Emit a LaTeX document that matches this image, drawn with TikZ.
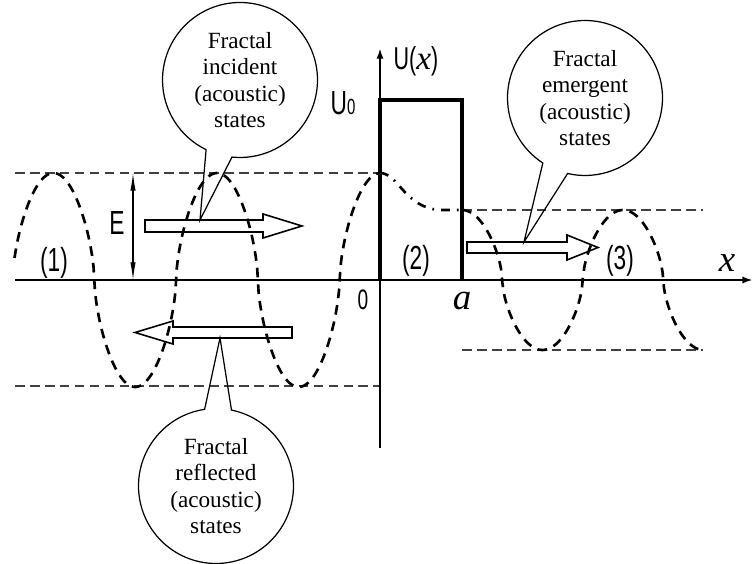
\documentclass[tikz,border=0pt]{standalone}
\usepackage{fontspec}
\setmainfont{Liberation Serif}
\newfontfamily\lblfont[FakeStretch=0.68]{Liberation Sans}
\usetikzlibrary{arrows.meta,shapes.callouts}

\begin{document}
\begin{tikzpicture}[x=0.02cm,y=-0.02cm,
bubble/.style={ellipse callout,draw,line width=.7pt,minimum width=3.1cm,minimum height=3.1cm,inner sep=0pt,align=center,callout pointer arc=20,font=\fontsize{13.2}{14.9}\selectfont},
lbl/.style={anchor=base,inner sep=0pt,font=\lblfont\fontsize{19}{19}\selectfont},
var/.style={anchor=base,inner sep=0pt,font=\fontsize{21}{21}\selectfont\itshape},
axis/.style={line width=1.2pt,-{Latex[length=6pt,width=4pt]}},
wave/.style={line width=1.5pt,dash pattern=on 5.5pt off 4pt},
level/.style={line width=.8pt,dash pattern=on 5.5pt off 3pt,draw=black!75},
hollow/.style={draw,line width=.9pt,line join=miter},
declare function={wv(\t)=sin(\t)*pow(abs(sin(\t))+0.001,-0.4);}]
\useasboundingbox (0,0) rectangle (755,564);

% energy levels
\draw[level] (15,173) -- (380,173);
\draw[level] (15,386) -- (380,386);
\draw[level] (462,210) -- (703,210);
\draw[level] (462,350) -- (703,350);

% axes and barrier
\draw[axis] (15,280) -- (753,280);
\draw[axis] (380,448) -- (380,48);
\draw[line width=1.9pt] (380,280) -- (380,100) -- (462,100) -- (462,280);
\draw[{Latex[length=10pt,width=3pt]}-{Latex[length=10pt,width=3pt]},line width=.6pt] (133,173) -- (133,280);

% states
\draw[wave] plot[domain=14.5:380,samples=260] (\x,{280-107*wv((\x-12.6)*2.2018)});
\draw[wave,dash pattern=on 5pt off 4pt on 1pt off 4pt] (380,173) .. controls (398,173) and (405,208) .. (440,210) -- (462,210);
\draw[wave] plot[domain=462:703,samples=180] (\x,{280-70*wv(90+(\x-462)*2.236)});

% hollow arrows
\draw[hollow] (145,220) -- (263,220) -- (263,214) -- (302,226) -- (263,238) -- (263,232) -- (145,232) -- cycle;
\draw[hollow] (292,327) -- (173,327) -- (173,321) -- (135,332.5) -- (173,344) -- (173,338) -- (292,338) -- cycle;
\draw[hollow] (467,242) -- (567,242) -- (567,235) -- (598,247.5) -- (567,260) -- (567,253) -- (467,253) -- cycle;
\coordinate (incp) at (200,220);
\coordinate (reflp) at (220,338);
\coordinate (emerp) at (524,242);

% callouts
\node[bubble,callout absolute pointer={(incp)}] (inc) at (240,80) {Fractal\\incident\\(acoustic)\\states};
\node[bubble,callout absolute pointer={(reflp)}] (refl) at (216,486) {Fractal\\reflected\\(acoustic)\\states};
\node[bubble,callout absolute pointer={(emerp)}] (emer) at (585,98) {Fractal\\emergent\\(acoustic)\\states};

% labels
\node[lbl] (r1) at (54,272) {(1)};
\node[lbl] (r2) at (416,270) {(2)};
\node[lbl] (r3) at (620,270) {(3)};
\node[lbl] (elbl) at (117,235) {E};
\node[lbl,font=\lblfont\fontsize{16}{16}\selectfont] (orig) at (363,310) {0};
\node[lbl] (uzero) at (343,115) {U{\fontsize{12.5}{12.5}\selectfont 0}};
\node[lbl,font=\lblfont\fontsize{18}{18}\selectfont] (ux) at (416,70) {U({\rmfamily\itshape\fontsize{19}{19}\selectfont x})};
\node[var] (alab) at (462,310) {a};
\node[var] (xlab) at (727,272) {x};
\end{tikzpicture}
\end{document}
